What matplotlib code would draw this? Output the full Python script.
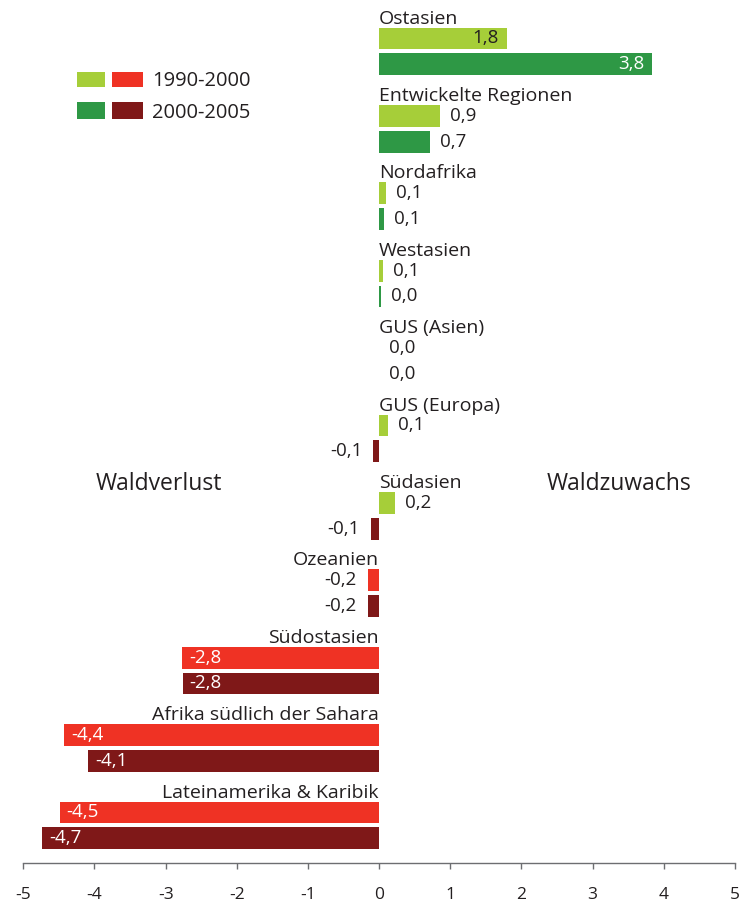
import matplotlib
matplotlib.use("Agg")
import matplotlib.pyplot as plt
from matplotlib.patches import Rectangle
from matplotlib.transforms import offset_copy

# Forest area change per region (million hectares per year)
regions = [
    "Ostasien",
    "Entwickelte Regionen",
    "Nordafrika",
    "Westasien",
    "GUS (Asien)",
    "GUS (Europa)",
    "Südasien",
    "Ozeanien",
    "Südostasien",
    "Afrika südlich der Sahara",
    "Lateinamerika & Karibik",
]
change_1990_2000 = [1.79, 0.86, 0.09, 0.06, 0.0, 0.12, 0.22, -0.16, -2.77, -4.43, -4.49]
change_2000_2005 = [3.84, 0.72, 0.07, 0.03, 0.0, -0.08, -0.12, -0.16, -2.76, -4.09, -4.74]
periods = ["1990-2000", "2000-2005"]
x_ticks = [-5, -4, -3, -2, -1, 0, 1, 2, 3, 4, 5]

GAIN_COLORS = ["#a6ce39", "#2e9845"]
LOSS_COLORS = ["#ef3224", "#7f1818"]
TEXT = "#231f20"
AXIS_GRAY = "#6d6e71"
FONT = ["Open Sans", "DejaVu Sans"]

W, H = 753, 907
fig = plt.figure(figsize=(W / 100, H / 100), dpi=100)
ax = fig.add_axes([23.3 / W, (H - 863.3) / H, (735 - 23.3) / W, 863.3 / H])

name_size = 14
value_size = 13.5
bar_h = 0.84


def fmt(v):
    s = f"{v:.1f}"
    if s == "-0.0":
        s = "0.0"
    return s.replace(".", ",")


def pt(px):
    return px * 72 / 100


for i, name in enumerate(regions):
    base = 3 * i + 1
    series = [change_1990_2000[i], change_2000_2005[i]]
    for k, v in enumerate(series):
        y = base + k
        color = GAIN_COLORS[k] if v >= 0 else LOSS_COLORS[k]
        if v != 0:
            ax.barh(y, v, height=bar_h, color=color, linewidth=0)
        text = fmt(v)
        if v >= 0:
            if v > 1.5:
                tr = offset_copy(ax.transData, fig=fig, x=pt(-8), y=0, units="points")
                tc = TEXT if k == 0 else "white"
                ax.text(v, y, text, transform=tr, ha="right", va="center",
                        fontsize=value_size, color=tc, family=FONT)
            else:
                tr = offset_copy(ax.transData, fig=fig, x=pt(10), y=0, units="points")
                ax.text(v, y, text, transform=tr, ha="left", va="center",
                        fontsize=value_size, color=TEXT, family=FONT)
        else:
            if v < -1.5:
                tr = offset_copy(ax.transData, fig=fig, x=pt(7), y=0, units="points")
                ax.text(v, y, text, transform=tr, ha="left", va="center",
                        fontsize=value_size, color="white", family=FONT)
            else:
                tr = offset_copy(ax.transData, fig=fig, x=pt(-11), y=0, units="points")
                ax.text(v, y, text, transform=tr, ha="right", va="center",
                        fontsize=value_size, color=TEXT, family=FONT)
    # region name above its pair of bars
    if change_1990_2000[i] >= 0:
        ax.text(0.0, base - 0.58, name, ha="left", va="baseline",
                fontsize=name_size, color=TEXT, family=FONT)
    else:
        ax.text(-0.01, base - 0.58, name, ha="right", va="baseline",
                fontsize=name_size, color=TEXT, family=FONT)

ax.set_xlim(-5, 5)
ax.set_ylim(32.97, -0.492)
ax.set_xticks(x_ticks)
ax.set_xticklabels([str(t) for t in x_ticks], fontsize=12.5, color=TEXT, family=FONT)
ax.set_yticks([])
for side in ("top", "left", "right"):
    ax.spines[side].set_visible(False)
ax.spines["bottom"].set_color(AXIS_GRAY)
ax.spines["bottom"].set_linewidth(1.0)
ax.tick_params(axis="x", direction="out", length=pt(6), width=1.0,
               color=AXIS_GRAY, pad=pt(17.5))

# side captions
ax.text(-3.09, 18.27, "Waldverlust", ha="center", va="center",
        fontsize=16.5, color=TEXT, family=FONT)
ax.text(3.37, 18.27, "Waldzuwachs", ha="center", va="center",
        fontsize=16.5, color=TEXT, family=FONT)


# legend: two swatches per period
def fig_rect(x0, y0, x1, y1, color):
    fig.add_artist(Rectangle((x0 / W, 1 - y1 / H), (x1 - x0) / W, (y1 - y0) / H,
                             transform=fig.transFigure, color=color, linewidth=0))


rows = [(72.3, 86.7), (102.3, 118.7)]
for k, (y0, y1) in enumerate(rows):
    fig_rect(77.3, y0, 105, y1, GAIN_COLORS[k])
    fig_rect(112.3, y0, 142.7, y1, LOSS_COLORS[k])
    fig.text(151.7 / W, 1 - ((y0 + y1) / 2 + 2) / H, periods[k], ha="left", va="center",
             fontsize=14.5, color=TEXT, family=FONT)

fig.savefig("out.png", dpi=100)
